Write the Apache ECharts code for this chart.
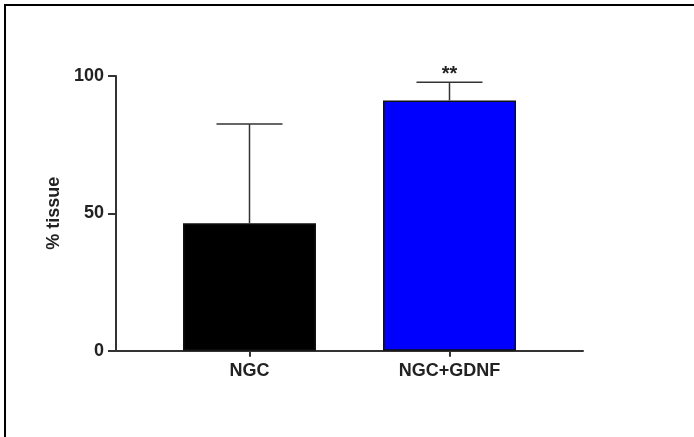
<!DOCTYPE html>
<html>
<head>
<meta charset="utf-8">
<script src="https://cdn.jsdelivr.net/npm/echarts@6/dist/echarts.min.js"></script>
<style>
  html, body { margin: 0; padding: 0; background: #fff; }
  #chart { width: 694px; height: 437px; }
</style>
</head>
<body>
<div id="chart"></div>
<script>
// ---- data ----
var categories = ['NGC', 'NGC+GDNF'];
var means = [46.4, 91.1];
var errors = [36.1, 6.6];
var significance = ['', '**'];
var yTicks = [0, 50, 100];
var yAxisTitle = '% tissue';

var barColors = ['#000000', '#0000FF'];
var fontFamily = '"Liberation Sans", Arial, Helvetica, sans-serif';

var chart = echarts.init(document.getElementById('chart'), null, { renderer: 'canvas' });

var catIdx = categories.map(function (c, i) { return i; });
var barData = means.map(function (m, i) {
  return { value: [i, m], itemStyle: { color: barColors[i] } };
});
var errData = means.map(function (m, i) { return [i, m, errors[i]]; });

var option = {
  animation: false,
  backgroundColor: '#ffffff',
  grid: { left: 116, right: 111, top: 76, bottom: 86.3, containLabel: false },
  xAxis: {
    type: 'value',
    min: -0.6675,
    max: 1.6675,
    splitLine: { show: false },
    axisLine: { show: true, onZero: false, lineStyle: { color: '#333333', width: 2 } },
    axisTick: { show: true, customValues: catIdx, length: 6, lineStyle: { color: '#333333', width: 2 } },
    axisLabel: {
      customValues: catIdx,
      formatter: function (v) { return categories[Math.round(v)]; },
      margin: 11,
      color: '#222222',
      fontFamily: fontFamily,
      fontWeight: 'bold',
      fontSize: 18
    }
  },
  yAxis: {
    type: 'value',
    min: 0,
    max: 100,
    interval: 50,
    name: yAxisTitle,
    nameLocation: 'middle',
    nameGap: 52,
    nameTextStyle: { color: '#222222', fontFamily: fontFamily, fontWeight: 'bold', fontSize: 18 },
    splitLine: { show: false },
    axisLine: { show: true, onZero: false, lineStyle: { color: '#333333', width: 2 } },
    axisTick: { show: true, length: 8, lineStyle: { color: '#333333', width: 2 } },
    axisLabel: {
      margin: 12,
      color: '#222222',
      fontFamily: fontFamily,
      fontWeight: 'bold',
      fontSize: 18,
      customValues: yTicks
    }
  },
  graphic: [
    { type: 'line', shape: { x1: 4, y1: 5, x2: 694, y2: 5 }, style: { stroke: '#000', lineWidth: 2 } },
    { type: 'line', shape: { x1: 5, y1: 4, x2: 5, y2: 437 }, style: { stroke: '#000', lineWidth: 2 } }
  ],
  series: [
    {
      type: 'bar',
      data: barData,
      barWidth: 133,
      itemStyle: { borderColor: '#111111', borderWidth: 1.5 },
      z: 2
    },
    {
      type: 'custom',
      data: errData,
      z: 3,
      renderItem: function (params, api) {
        var x = api.value(0), m = api.value(1), e = api.value(2);
        var base = api.coord([x, m]);
        var top = api.coord([x, m + e]);
        var half = api.size([0.33, 0])[0] / 2;
        var style = { stroke: '#333333', lineWidth: 1.5 };
        var children = [
          { type: 'line', shape: { x1: base[0], y1: base[1], x2: top[0], y2: top[1] }, style: style },
          { type: 'line', shape: { x1: top[0] - half, y1: top[1], x2: top[0] + half, y2: top[1] }, style: style }
        ];
        var sig = significance[params.dataIndex];
        if (sig) {
          children.push({
            type: 'text',
            style: {
              text: sig, x: top[0], y: top[1] + 2,
              align: 'center', verticalAlign: 'bottom',
              fill: '#222222', font: 'bold 20px ' + fontFamily
            }
          });
        }
        return { type: 'group', children: children };
      }
    }
  ]
};

chart.setOption(option);
</script>
</body>
</html>
